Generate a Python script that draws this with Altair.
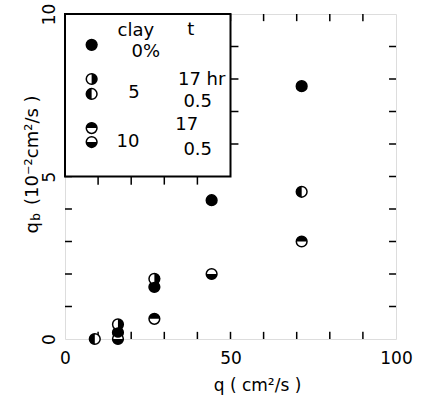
import altair as alt
import pandas as pd

# ---- data ----
series_names = ["0%", "5% 17hr", "5% 0.5hr", "10% 17hr", "10% 0.5hr"]
# custom half-filled glyphs (unit square -1..1)
series_shapes = [
    "circle",
    "M0,-1A1,1,0,0,1,0,1Z",   # right half black
    "M0,-1A1,1,0,0,0,0,1Z",   # left half black
    "M-1,0A1,1,0,0,1,1,0Z",   # top half black
    "M-1,0A1,1,0,0,0,1,0Z",   # bottom half black
]

q_0 = [16, 27, 44.3, 71.5]
qb_0 = [0.2, 1.6, 4.27, 7.78]
q_5_17 = [16, 27]
qb_5_17 = [0.45, 1.85]
q_5_05 = [9, 71.5]
qb_5_05 = [0.0, 4.53]
q_10_17 = [27, 71.5]
qb_10_17 = [0.62, 3.0]
q_10_05 = [16, 44.3]
qb_10_05 = [0.0, 2.0]

# legend symbol positions (data units)
legend_sym_q = [8.05, 8.05, 8.05, 8.05, 8.05]
legend_sym_qb = [9.05, 8.0, 7.54, 6.49, 6.06]

legend_texts = ["clay", "t", "0%", "5", "17 hr", "0.5", "10", "17", "0.5"]
legend_text_q = [21.4, 38.0, 24.4, 20.8, 41.3, 40.1, 19.0, 36.8, 40.1]
legend_text_qb = [9.32, 9.35, 8.68, 7.42, 7.82, 7.14, 5.91, 6.43, 5.66]

x_ticks = [10, 20, 30, 40, 50, 60, 70, 80, 90]
y_ticks = [1, 2, 3, 4, 5, 6, 7, 8, 9]
box_x_ticks = [10, 20, 30, 40]
box_y_ticks = [6, 7, 8, 9]
x_labels = [0, 50, 100]
y_labels = [0, 5, 10]

FONT = "DejaVu Sans"
FW = "normal"
NB = "\u00a0"

# ---- tables ----
qs = [q_0, q_5_17, q_5_05, q_10_17, q_10_05]
qbs = [qb_0, qb_5_17, qb_5_05, qb_10_17, qb_10_05]
rows = []
for name, xs_, ys_ in zip(series_names, qs, qbs):
    for a, b in zip(xs_, ys_):
        rows.append({"q": a, "qb": b, "series": name})
for name, a, b in zip(series_names, legend_sym_q, legend_sym_qb):
    rows.append({"q": a, "qb": b, "series": name})
pts = pd.DataFrame(rows)

txt = pd.DataFrame({"label": legend_texts, "q": legend_text_q, "qb": legend_text_qb})

tl_x = 2.1   # tick length in x units
tl_y = 0.22  # tick length in y units
ticks = []
for t in x_ticks:
    ticks.append({"x": t, "x2": t, "y": 0, "y2": tl_y})
    ticks.append({"x": t, "x2": t, "y": 10, "y2": 10 - tl_y})
for t in y_ticks:
    ticks.append({"x": 0, "x2": tl_x, "y": t, "y2": t})
    ticks.append({"x": 100, "x2": 100 - tl_x, "y": t, "y2": t})
ticks = pd.DataFrame(ticks)

bticks = []
for t in box_x_ticks:
    bticks.append({"x": t, "x2": t, "y": 5, "y2": 5 - 0.25})
for t in box_y_ticks:
    bticks.append({"x": 50, "x2": 50 + 2.4, "y": t, "y2": t})
bticks = pd.DataFrame(bticks)

box = pd.DataFrame({"x": [0], "x2": [50], "y": [5], "y2": [10]})

xs = alt.Scale(domain=[0, 100], nice=False, zero=False)
ys = alt.Scale(domain=[0, 10], nice=False, zero=False)

x_axis = alt.Axis(values=x_labels, ticks=False, domain=False, grid=False,
                  labelFontSize=17, labelFont=FONT, labelFontWeight=FW, labelColor="black",
                  labelPadding=11, labelFlush=False,
                  title="q ( cm²/s )", titleFont=FONT, titleFontWeight=FW, titleFontSize=17,
                  titleColor="black", titleX=192, titleY=51, titleBaseline="alphabetic")
y_axis = alt.Axis(values=y_labels, ticks=False, domain=False, grid=False,
                  labelFontSize=17, labelFont=FONT, labelFontWeight=FW, labelColor="black",
                  labelAngle=270, labelAlign="center", labelBaseline="middle",
                  labelPadding=16, labelFlush=False,
                  title="q" + NB * 3 + "(10⁻²cm²/s )", titleFont=FONT, titleFontWeight=FW,
                  titleFontSize=18, titleColor="black", titleAngle=270, titleX=-28, titleY=219,
                  titleAlign="left", titleBaseline="alphabetic")

base_tick = alt.Chart(ticks).mark_rule(color="black", strokeWidth=1.5).encode(
    x=alt.X("x:Q", scale=xs, axis=x_axis), x2="x2:Q",
    y=alt.Y("y:Q", scale=ys, axis=y_axis), y2="y2:Q")

box_layer = alt.Chart(box).mark_rect(fill="white", stroke="black", strokeWidth=2).encode(
    x=alt.X("x:Q", scale=xs), x2="x2:Q", y=alt.Y("y:Q", scale=ys), y2="y2:Q")

box_ticks = alt.Chart(bticks).mark_rule(color="black", strokeWidth=1.5).encode(
    x=alt.X("x:Q", scale=xs), x2="x2:Q", y=alt.Y("y:Q", scale=ys), y2="y2:Q")

bg = alt.Chart(pts).mark_point(shape="circle", filled=True, fill="white", stroke="black",
                               strokeWidth=1.5, size=115, opacity=1).encode(
    x=alt.X("q:Q", scale=xs), y=alt.Y("qb:Q", scale=ys))

fg = alt.Chart(pts).mark_point(filled=True, color="black", size=115, opacity=1).encode(
    x=alt.X("q:Q", scale=xs), y=alt.Y("qb:Q", scale=ys),
    shape=alt.Shape("series:N", scale=alt.Scale(domain=series_names, range=series_shapes),
                    legend=None))

legend_txt = alt.Chart(txt).mark_text(font=FONT, fontWeight=FW, fontSize=18, color="black",
                                      baseline="alphabetic", align="center").encode(
    x=alt.X("q:Q", scale=xs), y=alt.Y("qb:Q", scale=ys), text="label:N")

sub_b = alt.Chart(pd.DataFrame({"s": ["b"]})).mark_text(
    font=FONT, fontWeight=FW, fontSize=12, color="black", angle=270,
    align="center", baseline="middle").encode(
    x=alt.value(-29), y=alt.value(203), text="s:N")

chart = alt.layer(base_tick, box_layer, box_ticks, bg, fg, legend_txt, sub_b).properties(
    width=331, height=325,
    autosize=alt.AutoSizeParams(type="none"),
    padding={"left": 65, "top": 14, "right": 27, "bottom": 62},
).configure_view(stroke="black", strokeWidth=2).configure(background="white")

chart.save("out.html", embed_options={"renderer": "svg", "actions": False})
